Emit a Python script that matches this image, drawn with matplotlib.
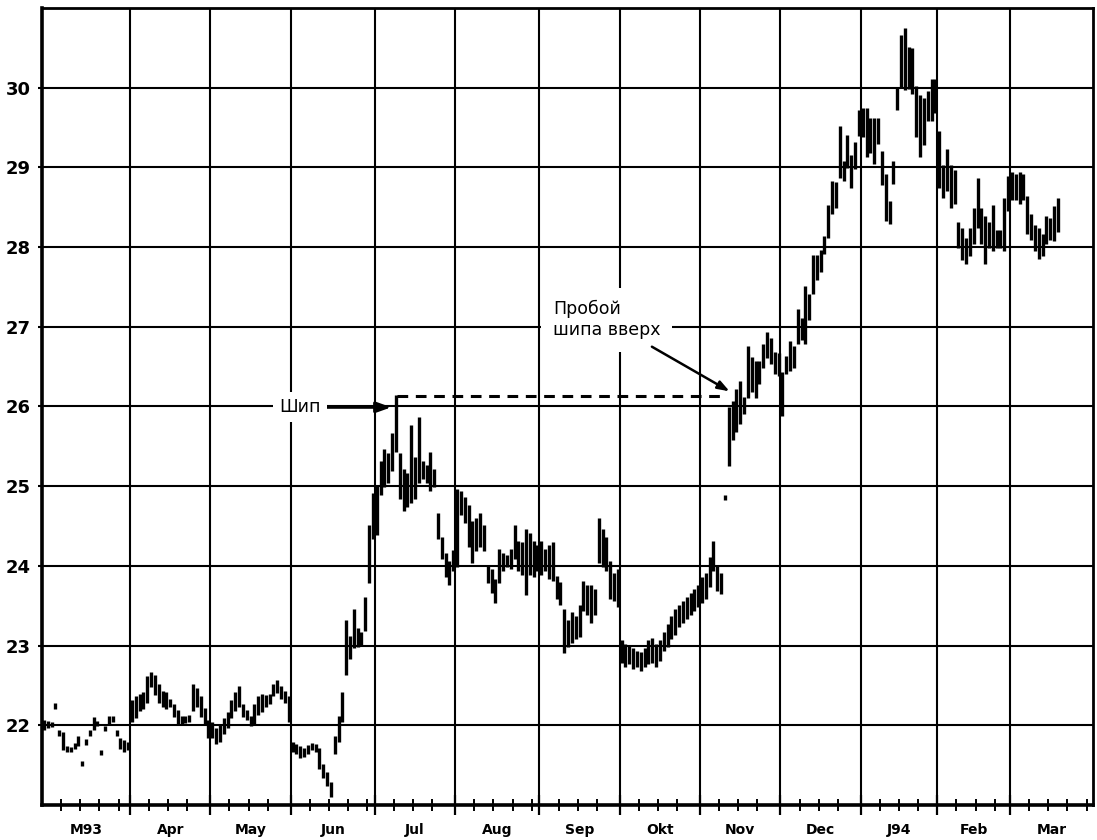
import numpy as np
import matplotlib
matplotlib.use("Agg")
import matplotlib.pyplot as plt
from matplotlib.transforms import blended_transform_factory

# ---------------- data (daily low / high) ----------------
month_labels = ['M93', 'Apr', 'May', 'Jun', 'Jul', 'Aug', 'Sep', 'Okt', 'Nov', 'Dec', 'J94', 'Feb', 'Mar']
month_trading_days = [23, 21, 21, 22, 21, 22, 21, 21, 21, 21, 20, 19, 13]

low_mar93 = [21.95, 21.98, 21.99, 22.22, 21.88, 21.70, 21.68, 21.68, 21.72, 21.75, 21.50, 21.77,
             21.88, 21.96, 22.00, 21.64, 21.94, 22.03, 22.05, 21.88, 21.72, 21.68, 21.70]
high_mar93 = [22.05, 22.04, 22.03, 22.26, 21.92, 21.90, 21.72, 21.71, 21.76, 21.85, 21.54, 21.81,
              21.92, 22.09, 22.04, 21.68, 21.98, 22.10, 22.10, 21.92, 21.82, 21.80, 21.78]
low_apr = [22.05, 22.10, 22.20, 22.22, 22.30, 22.50, 22.40, 22.30, 22.25, 22.22, 22.25,
           22.12, 22.03, 22.03, 22.04, 22.05, 22.20, 22.25, 22.12, 22.03, 21.85]
high_apr = [22.30, 22.35, 22.38, 22.40, 22.60, 22.65, 22.62, 22.50, 22.42, 22.40, 22.32,
            22.25, 22.18, 22.10, 22.10, 22.12, 22.50, 22.45, 22.35, 22.20, 22.05]
low_may = [21.85, 21.78, 21.80, 21.90, 21.98, 22.10, 22.20, 22.25, 22.12, 22.08, 22.00,
           22.03, 22.15, 22.18, 22.25, 22.28, 22.38, 22.42, 22.35, 22.30, 22.05]
high_may = [22.02, 21.95, 22.00, 22.08, 22.15, 22.30, 22.40, 22.48, 22.25, 22.18, 22.10,
            22.25, 22.35, 22.38, 22.36, 22.38, 22.50, 22.55, 22.48, 22.42, 22.35]
low_jun = [21.68, 21.66, 21.60, 21.62, 21.66, 21.70, 21.68, 21.47, 21.35, 21.25, 21.12,
           21.65, 21.80, 22.05, 22.65, 22.85, 22.98, 23.00, 23.02, 23.20, 23.80, 24.35]
high_jun = [21.78, 21.75, 21.72, 21.70, 21.74, 21.76, 21.75, 21.70, 21.50, 21.40, 21.27,
            21.85, 22.10, 22.40, 23.30, 23.10, 23.45, 23.20, 23.15, 23.60, 24.50, 24.90]
low_jul = [24.40, 24.90, 25.00, 25.05, 25.20, 25.45, 24.85, 24.70, 24.75, 24.80, 24.85,
           25.05, 25.10, 25.05, 24.95, 25.00, 24.35, 24.10, 23.88, 23.78, 23.95]
high_jul = [25.00, 25.30, 25.45, 25.40, 25.65, 26.13, 25.40, 25.20, 25.15, 25.75, 25.35,
            25.85, 25.30, 25.25, 25.42, 25.20, 24.65, 24.35, 24.15, 24.05, 24.18]
low_aug = [24.00, 24.65, 24.55, 24.25, 24.05, 24.20, 24.25, 24.20, 23.80, 23.68, 23.55,
           23.80, 23.95, 24.00, 23.98, 24.10, 23.95, 23.90, 23.65, 23.90, 23.88, 23.95]
high_aug = [24.95, 24.93, 24.85, 24.75, 24.55, 24.58, 24.65, 24.50, 24.00, 23.95, 23.82,
            24.20, 24.15, 24.12, 24.20, 24.50, 24.30, 24.28, 24.45, 24.40, 24.30, 24.25]
low_sep = [23.90, 23.95, 23.85, 23.82, 23.60, 23.53, 22.92, 23.00, 23.05, 23.10, 23.12,
           23.45, 23.40, 23.30, 23.40, 24.05, 24.00, 23.95, 23.60, 23.57, 23.50]
high_sep = [24.30, 24.20, 24.25, 24.28, 23.86, 23.78, 23.44, 23.30, 23.40, 23.35, 23.50,
            23.80, 23.75, 23.75, 23.70, 24.58, 24.45, 24.35, 24.05, 23.90, 23.95]
low_oct = [22.80, 22.75, 22.78, 22.72, 22.75, 22.70, 22.75, 22.78, 22.80, 22.75, 22.82,
           22.95, 23.00, 23.10, 23.15, 23.25, 23.30, 23.35, 23.40, 23.45, 23.50]
high_oct = [23.05, 23.00, 22.98, 22.95, 22.92, 22.90, 22.95, 23.05, 23.08, 23.00, 23.05,
            23.15, 23.25, 23.35, 23.45, 23.50, 23.55, 23.60, 23.65, 23.70, 23.75]
low_nov = [23.55, 23.60, 23.75, 23.95, 23.70, 23.66, 24.84, 25.27, 25.60, 25.70, 25.80,
           25.92, 26.12, 26.20, 26.12, 26.30, 26.50, 26.62, 26.55, 26.42, 26.40]
high_nov = [23.85, 23.90, 24.10, 24.30, 23.98, 23.90, 24.88, 25.98, 26.05, 26.20, 26.30,
            26.10, 26.75, 26.60, 26.55, 26.55, 26.77, 26.92, 26.85, 26.67, 26.65]
low_dec = [25.90, 26.42, 26.46, 26.50, 26.80, 26.85, 26.80, 27.10, 27.43, 27.60, 27.70,
           27.93, 28.13, 28.43, 28.50, 28.88, 28.85, 29.01, 28.76, 29.00, 29.41]
high_dec = [26.42, 26.62, 26.81, 26.75, 27.21, 27.10, 27.50, 27.40, 27.88, 27.88, 27.95,
            28.13, 28.51, 28.81, 28.80, 29.51, 29.06, 29.39, 29.14, 29.30, 29.70]
low_jan94 = [29.40, 29.14, 29.20, 29.06, 29.31, 28.80, 28.34, 28.30, 28.81, 29.73,
             30.01, 29.98, 30.00, 29.94, 29.39, 29.14, 29.30, 29.60, 29.60, 29.70]
high_jan94 = [29.73, 29.73, 29.60, 29.60, 29.60, 29.19, 28.90, 28.56, 29.06, 29.98,
              30.64, 30.73, 30.50, 30.48, 30.01, 29.89, 29.85, 29.94, 30.10, 30.10]
low_feb94 = [28.76, 28.63, 28.72, 28.51, 28.55, 28.00, 27.85, 27.80, 27.90, 28.05,
             28.26, 28.05, 27.80, 28.00, 27.97, 28.00, 28.00, 27.97, 28.47]
high_feb94 = [29.44, 29.01, 29.22, 29.01, 28.95, 28.30, 28.22, 28.10, 28.22, 28.47,
              28.85, 28.47, 28.38, 28.30, 28.51, 28.20, 28.20, 28.60, 28.88]
low_mar94 = [28.60, 28.60, 28.56, 28.60, 28.18, 28.10, 27.97, 27.87, 27.90, 28.05, 28.10, 28.09, 28.20]
high_mar94 = [28.93, 28.90, 28.93, 28.90, 28.63, 28.40, 28.26, 28.22, 28.15, 28.38, 28.35, 28.50, 28.60]

y_ticks = [22, 23, 24, 25, 26, 27, 28, 29, 30]

spike_day, spike_high = 92, 26.13
breakout_day = 179

# ---------------- assemble ----------------
lows = np.array(low_mar93 + low_apr + low_may + low_jun + low_jul + low_aug + low_sep +
                low_oct + low_nov + low_dec + low_jan94 + low_feb94 + low_mar94)
highs = np.array(high_mar93 + high_apr + high_may + high_jun + high_jul + high_aug + high_sep +
                 high_oct + high_nov + high_dec + high_jan94 + high_feb94 + high_mar94)
days = np.arange(len(lows))
month_starts = np.concatenate([[0], np.cumsum(month_trading_days)[:-1]])
x_end = 274.2

fig = plt.figure(figsize=(10.97, 8.40), dpi=100)
ax = fig.add_axes([0.0383, 0.0417, 0.9581, 0.9488])
ax.set_xlim(-0.5, x_end)
ax.set_ylim(21, 31)

# grid
boundaries = month_starts[1:] - 0.5
for b in boundaries:
    ax.axvline(b, color='black', lw=1.5, zorder=1)
for v in y_ticks:
    ax.axhline(v, color='black', lw=1.5, zorder=1)

# bars
ax.vlines(days, lows - 0.015, highs + 0.015, color='black', lw=2.4, zorder=3)

# dashed line from spike to breakout
ax.plot([spike_day + 0.3, breakout_day - 0.5], [spike_high, spike_high],
        color='black', lw=2.2, ls=(0, (3.5, 2.5)), zorder=3)

# annotations
ax.annotate('Шип', xy=(spike_day - 1.2, 25.99), xytext=(67, 25.99),
            fontsize=12.5, ha='center', va='center', zorder=5,
            bbox=dict(boxstyle='square,pad=0.35', fc='white', ec='none'),
            arrowprops=dict(arrowstyle='-|>,head_length=0.7,head_width=0.25',
                            color='black', lw=2.2, shrinkA=0, shrinkB=0))
ax.text(133, 27.09, 'Пробой\nшипа вверх', fontsize=12.5, ha='left', va='center',
        linespacing=1.25, zorder=5,
        bbox=dict(boxstyle='square,pad=0.7', fc='white', ec='none'))
ax.annotate('', xy=(breakout_day + 0.2, 26.19), xytext=(158.9, 26.75), zorder=5,
            arrowprops=dict(arrowstyle='-|>,head_length=0.7,head_width=0.25',
                            color='black', lw=1.8, shrinkA=0, shrinkB=0))

# spines
for s in ['left', 'bottom']:
    ax.spines[s].set_linewidth(2.6)
for s in ['top', 'right']:
    ax.spines[s].set_linewidth(2.0)

# y ticks
ax.set_yticks(y_ticks)
ax.set_yticklabels([str(v) for v in y_ticks], fontsize=13, fontweight='bold')
ax.tick_params(axis='y', length=3, width=1.5, pad=5)

# x ticks
minor = []
ends = list(month_starts[1:]) + [x_end + 0.5]
for s, e in zip(month_starts, ends):
    k = s + 5
    while k < e - 1:
        minor.append(k - 0.5)
        k += 5
ax.set_xticks(list(boundaries))
ax.set_xticklabels([])
ax.set_xticks(minor, minor=True)
ax.tick_params(axis='x', which='major', direction='inout', length=14, width=1.6)
ax.tick_params(axis='x', which='minor', direction='inout', length=8, width=1.4)

trans = blended_transform_factory(ax.transData, ax.transAxes)
centers = [(s - 0.5 + e - 0.5) / 2 for s, e in zip(month_starts, ends)]
for c, lab in zip(centers, month_labels):
    ax.text(c, -0.022, lab, transform=trans, ha='center', va='top',
            fontsize=10, fontweight='bold')

fig.savefig('out.png', dpi=100, facecolor='white')
